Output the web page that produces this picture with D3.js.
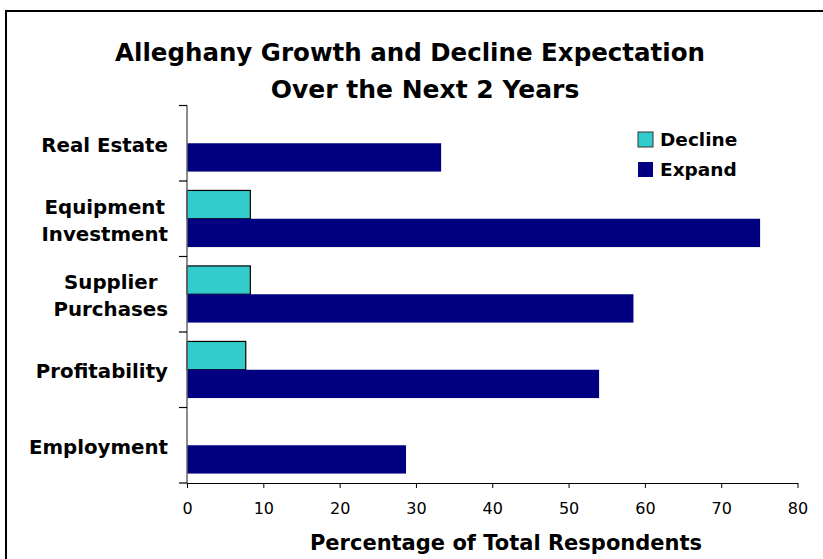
<!DOCTYPE html>
<html>
<head>
<meta charset="utf-8">
<script src="https://cdn.jsdelivr.net/npm/d3@7"></script>
<style>
  html, body { margin: 0; padding: 0; background: #fff; }
  svg { display: block; }
  text { font-family: "DejaVu Sans", Verdana, sans-serif; fill: #000; }
</style>
</head>
<body>
<svg id="chart" width="823" height="559"></svg>
<script>
// Survey categories, top to bottom
const categories = ["Real Estate", "Equipment Investment", "Supplier Purchases", "Profitability", "Employment"];
// Category labels as drawn (line breaks)
const categoryLines = [["Real Estate"], ["Equipment", "Investment"], ["Supplier", "Purchases"], ["Profitability"], ["Employment"]];
// Percentage of respondents expecting decline (null = no bar)
const declineValues = [null, 8.3, 8.3, 7.7, null];
// Percentage of respondents expecting to expand
const expandValues = [33.3, 75.1, 58.5, 54.0, 28.7];
const seriesNames = ["Decline", "Expand"];
const seriesColors = ["#33CCCC", "#000080"];
const xTicks = [0, 10, 20, 30, 40, 50, 60, 70, 80];
const titleLines = ["Alleghany Growth and Decline Expectation", "Over the Next 2 Years"];
const xAxisTitle = "Percentage of Total Respondents";

const svg = d3.select("#chart");

// Outer frame
svg.append("rect")
  .attr("x", 6).attr("y", 11)
  .attr("width", 840).attr("height", 580)
  .attr("fill", "none").attr("stroke", "#000").attr("stroke-width", 2);

const plot = { left: 187, right: 797.5, top: 105.5, bottom: 483 };

const x = d3.scaleLinear().domain([0, 80]).range([plot.left, plot.right]);
const y0 = d3.scaleBand().domain(categories).range([plot.top, plot.bottom]).padding(0);
const y1 = d3.scaleBand().domain(seriesNames).range([0, y0.bandwidth()])
  .paddingInner(0).paddingOuter(0.333);

// Bars
const rows = categories.map((c, i) => ({ cat: c, vals: [declineValues[i], expandValues[i]] }));
const groups = svg.append("g").selectAll("g").data(rows).join("g")
  .attr("transform", d => `translate(0,${y0(d.cat)})`);

groups.selectAll("rect")
  .data(d => d.vals.map((v, k) => ({ v, k })).filter(e => e.v != null))
  .join("rect")
  .attr("x", x(0))
  .attr("y", e => y1(seriesNames[e.k]))
  .attr("width", e => x(e.v) - x(0))
  .attr("height", y1.bandwidth())
  .attr("fill", e => seriesColors[e.k])
  .attr("stroke", e => e.k === 0 ? "#000" : "none")
  .attr("stroke-width", 1.2);

// X axis
const xAxis = svg.append("g")
  .attr("transform", `translate(0,${plot.bottom})`)
  .call(d3.axisBottom(x).tickValues(xTicks).tickSize(5).tickSizeOuter(0).tickPadding(15));
xAxis.select(".domain").attr("stroke", "#000").attr("stroke-width", 1.2);
xAxis.selectAll(".tick line").attr("stroke", "#000");
xAxis.selectAll(".tick text")
  .style("font-family", '"DejaVu Sans", sans-serif')
  .style("font-size", "16px").attr("fill", "#000");

// Y axis (ticks between categories)
const yEdges = categories.map(c => y0(c)).concat([plot.bottom]);
const yAxis = svg.append("g");
yAxis.append("line")
  .attr("x1", plot.left).attr("x2", plot.left)
  .attr("y1", plot.top).attr("y2", plot.bottom)
  .attr("stroke", "#666").attr("stroke-width", 1.5);
yAxis.selectAll("line.tick").data(yEdges).join("line")
  .attr("class", "tick")
  .attr("x1", plot.left - 8).attr("x2", plot.left)
  .attr("y1", d => d).attr("y2", d => d)
  .attr("stroke", "#000").attr("stroke-width", 1.2);

// Category labels: each line centred on the block, block right-aligned
const labelRight = 168;
categories.forEach((c, i) => {
  const lines = categoryLines[i];
  const cy = y0(c) + y0.bandwidth() / 2 + 1.5;
  const gap = 27;
  const g = svg.append("g");
  const texts = lines.map((s, j) => g.append("text")
    .text(s)
    .attr("y", cy + (j - (lines.length - 1) / 2) * gap)
    .attr("dy", "0.35em")
    .style("font-weight", "bold")
    .style("font-size", "19.8px"));
  const widths = texts.map(t => t.node().getComputedTextLength());
  const maxW = d3.max(widths);
  const center = labelRight - maxW / 2;
  texts.forEach(t => t.attr("x", center).attr("text-anchor", "middle"));
});

// Title
svg.append("text").text(titleLines[0])
  .attr("x", 410).attr("y", 61).attr("text-anchor", "middle")
  .style("font-weight", "bold").style("font-size", "24.5px");
svg.append("text").text(titleLines[1])
  .attr("x", 425).attr("y", 98).attr("text-anchor", "middle")
  .style("font-weight", "bold").style("font-size", "25px");

// X axis title
svg.append("text").text(xAxisTitle)
  .attr("x", 506).attr("y", 550).attr("text-anchor", "middle")
  .style("font-weight", "bold").style("font-size", "21px");

// Legend
const legend = svg.append("g").attr("transform", "translate(638,132)");
seriesNames.forEach((name, k) => {
  const row = legend.append("g").attr("transform", `translate(0,${k * 30})`);
  row.append("rect").attr("width", 15).attr("height", 15)
    .attr("fill", seriesColors[k])
    .attr("stroke", k === 0 ? "#333" : "none").attr("stroke-width", 1);
  row.append("text").text(name)
    .attr("x", 22).attr("y", 7.5).attr("dy", "0.35em")
    .style("font-weight", "bold").style("font-size", "18.5px");
});
</script>
</body>
</html>
